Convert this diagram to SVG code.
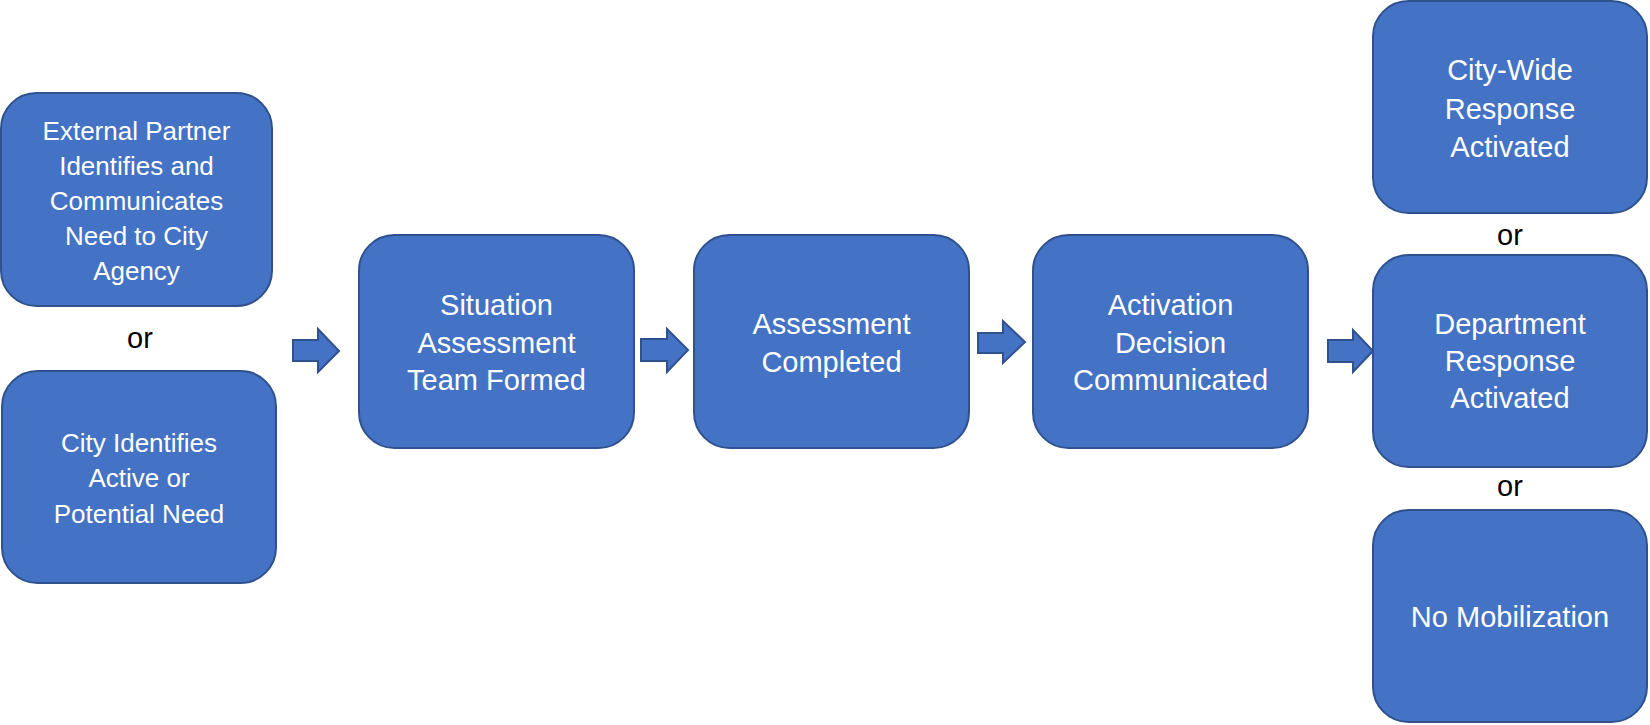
<svg xmlns="http://www.w3.org/2000/svg" width="1650" height="725" viewBox="0 0 1650 725">
<style>
.box{fill:#4472C4;stroke:#2F528F;stroke-width:2}
.arr{fill:#4472C4;stroke:#2F528F;stroke-width:2;stroke-linejoin:miter}
.t{font-family:"Liberation Sans",Arial,sans-serif;font-size:29px;fill:#FFFFFF;text-anchor:middle}
.ts{font-family:"Liberation Sans",Arial,sans-serif;font-size:26px;fill:#FFFFFF;text-anchor:middle}
.or{font-family:"Liberation Sans",Arial,sans-serif;font-size:29px;fill:#000000;text-anchor:middle}
</style>
<rect width="1650" height="725" fill="#FFFFFF"/>
<g id="connectors">
<polygon class="arr" points="293,340 318,340 318,329 339,351 318,372 318,361 293,361"/>
<polygon class="arr" points="641,339 667,339 667,329 688,350 667,372 667,361 641,361"/>
<polygon class="arr" points="978,333 1003,333 1003,321 1025,342 1003,363 1003,353 978,353"/>
<polygon class="arr" points="1328,340 1353,340 1353,330 1373,351 1353,372 1353,362 1328,362"/>
</g>
<g id="node-external">
<rect class="box" x="1" y="93" width="271" height="213" rx="35.5"/>
<text class="ts" x="136.5" y="140">External Partner</text>
<text class="ts" x="136.5" y="175">Identifies and</text>
<text class="ts" x="136.5" y="210">Communicates</text>
<text class="ts" x="136.5" y="245">Need to City</text>
<text class="ts" x="136.5" y="280">Agency</text>
</g>
<text id="or-left" class="or" x="140" y="348">or</text>
<g id="node-city">
<rect class="box" x="2" y="371" width="274" height="212" rx="35.5"/>
<text class="ts" x="139" y="452">City Identifies</text>
<text class="ts" x="139" y="487">Active or</text>
<text class="ts" x="139" y="523">Potential Need</text>
</g>
<g id="node-situation">
<rect class="box" x="359" y="235" width="275" height="213" rx="35.5"/>
<text class="t" x="496.5" y="315">Situation</text>
<text class="t" x="496.5" y="353">Assessment</text>
<text class="t" x="496.5" y="390">Team Formed</text>
</g>
<g id="node-assessment">
<rect class="box" x="694" y="235" width="275" height="213" rx="35.5"/>
<text class="t" x="831.5" y="334">Assessment</text>
<text class="t" x="831.5" y="372">Completed</text>
</g>
<g id="node-activation">
<rect class="box" x="1033" y="235" width="275" height="213" rx="35.5"/>
<text class="t" x="1170.5" y="315">Activation</text>
<text class="t" x="1170.5" y="353">Decision</text>
<text class="t" x="1170.5" y="390">Communicated</text>
</g>
<g id="node-citywide">
<rect class="box" x="1373" y="1" width="274" height="212" rx="35.5"/>
<text class="t" x="1510" y="80">City-Wide</text>
<text class="t" x="1510" y="119">Response</text>
<text class="t" x="1510" y="157">Activated</text>
</g>
<text id="or-right-1" class="or" x="1510" y="245">or</text>
<g id="node-department">
<rect class="box" x="1373" y="255" width="274" height="212" rx="35.5"/>
<text class="t" x="1510" y="334">Department</text>
<text class="t" x="1510" y="371">Response</text>
<text class="t" x="1510" y="408">Activated</text>
</g>
<text id="or-right-2" class="or" x="1510" y="496">or</text>
<g id="node-nomob">
<rect class="box" x="1373" y="510" width="274" height="212" rx="35.5"/>
<text class="t" x="1510" y="627">No Mobilization</text>
</g>
</svg>
